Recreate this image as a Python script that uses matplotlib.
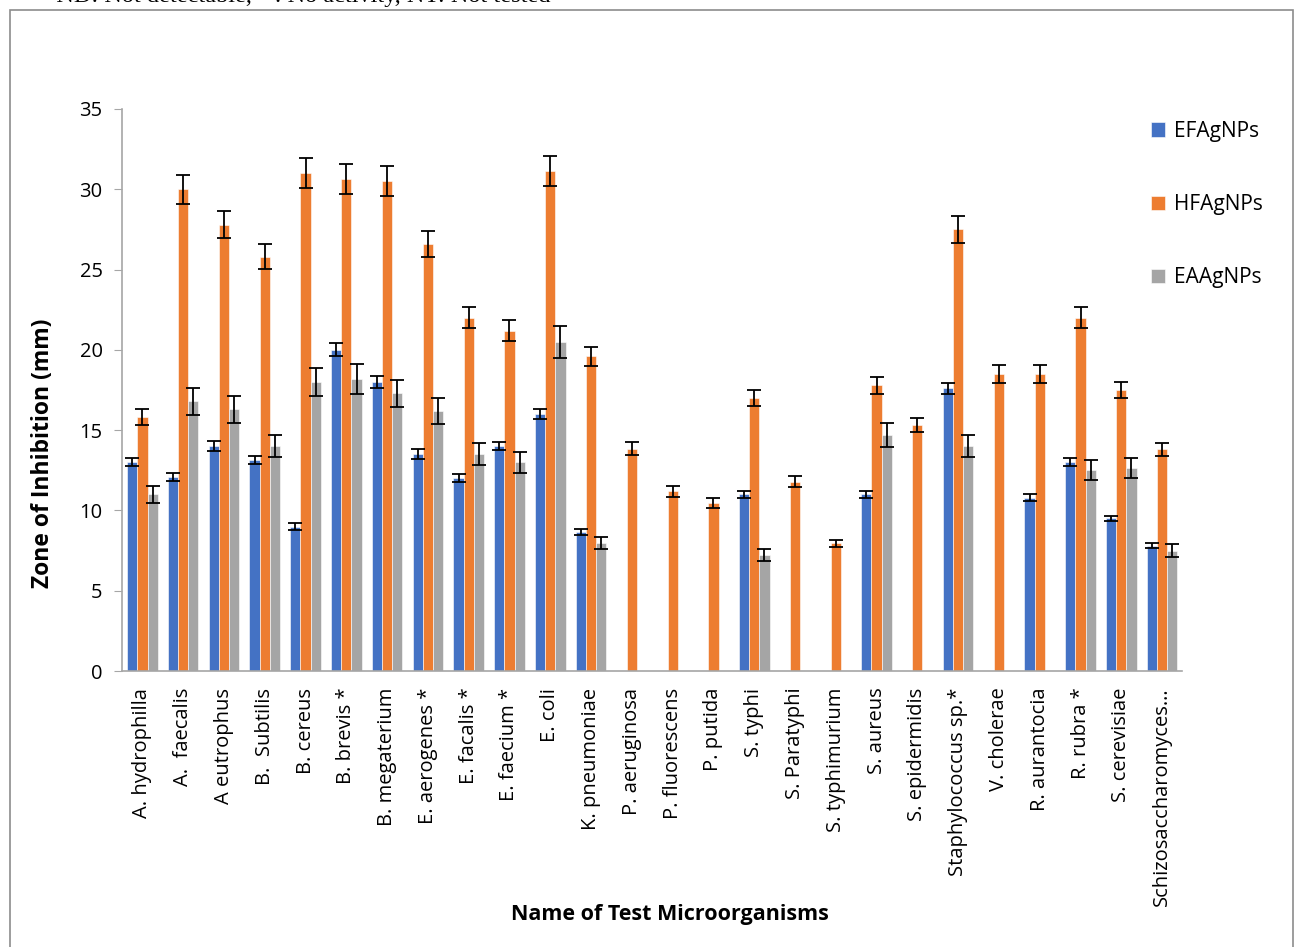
import numpy as np
import matplotlib
matplotlib.use("Agg")
import matplotlib.pyplot as plt
from matplotlib.patches import Rectangle

# organisms on the x axis
organisms = ["A. hydrophilla", "A.  faecalis", "A eutrophus", "B.  Subtilis", "B. cereus",
             "B. brevis *", "B. megaterium", "E. aerogenes *", "E. facalis *", "E. faecium *",
             "E. coli", "K. pneumoniae", "P. aeruginosa", "P. fluorescens", "P. putida",
             "S. typhi", "S. Paratyphi", "S. typhimurium", "S. aureus", "S. epidermidis",
             "Staphylococcus sp.*", "V. cholerae", "R. aurantocia", "R. rubra *", "S. cerevisiae",
             "Schizosaccharomyces\u2026"]

# zone of inhibition (mm)
efagnps = [13.0, 12.1, 14.0, 13.15, 9.0, 20.0, 18.0, 13.5, 12.0, 14.0,
           16.0, 8.65, 0, 0, 0, 11.0, 0, 0, 11.0, 0,
           17.6, 0, 10.8, 13.0, 9.5, 7.8]
hfagnps = [15.8, 30.0, 27.8, 25.8, 31.0, 30.65, 30.5, 26.6, 22.0, 21.2,
           31.15, 19.6, 13.85, 11.2, 10.45, 17.0, 11.8, 7.95, 17.8, 15.3,
           27.5, 18.5, 18.5, 22.0, 17.5, 13.8]
eaagnps = [11.0, 16.8, 16.3, 14.0, 18.0, 18.2, 17.3, 16.2, 13.5, 13.0,
           20.5, 7.95, 0, 0, 0, 7.25, 0, 0, 14.7, 0,
           14.0, 0, 0, 12.5, 12.65, 7.5]

# error bars
efagnps_err = [0.25, 0.25, 0.3, 0.27, 0.2, 0.4, 0.35, 0.3, 0.25, 0.25,
               0.3, 0.18, 0, 0, 0, 0.22, 0, 0, 0.22, 0,
               0.35, 0, 0.2, 0.25, 0.18, 0.15]
hfagnps_err = [0.5, 0.9, 0.83, 0.77, 0.93, 0.93, 0.93, 0.8, 0.66, 0.65,
               0.94, 0.58, 0.42, 0.35, 0.32, 0.5, 0.36, 0.24, 0.52, 0.44,
               0.82, 0.56, 0.56, 0.66, 0.52, 0.42]
eaagnps_err = [0.55, 0.85, 0.83, 0.7, 0.9, 0.92, 0.85, 0.82, 0.67, 0.65,
               1.0, 0.38, 0, 0, 0, 0.38, 0, 0, 0.74, 0,
               0.7, 0, 0, 0.63, 0.63, 0.4]

plt.rcParams['font.family'] = ['Open Sans', 'DejaVu Sans']

fig = plt.figure(figsize=(12.98, 9.47), dpi=100)
ax = fig.add_axes([0.094, 0.2914, 0.817, 0.5935])

x = np.arange(len(organisms))
w = 0.25
ekw = dict(ecolor='black', elinewidth=1.3, capthick=1.3)
ax.bar(x - w, efagnps, w, color='#4472C4', edgecolor='white', linewidth=0.4,
       yerr=[e if v > 0 else np.nan for e, v in zip(efagnps_err, efagnps)],
       capsize=5, error_kw=ekw, label='EFAgNPs')
ax.bar(x, hfagnps, w, color='#ED7D31', edgecolor='white', linewidth=0.4,
       yerr=hfagnps_err, capsize=5, error_kw=ekw, label='HFAgNPs')
ax.bar(x + w, eaagnps, w, color='#A5A5A5', edgecolor='white', linewidth=0.4,
       yerr=[e if v > 0 else np.nan for e, v in zip(eaagnps_err, eaagnps)],
       capsize=5, error_kw=ekw, label='EAAgNPs')

ax.set_xlim(-0.5, len(organisms) - 0.5)
ax.set_ylim(0, 35)
ax.set_yticks(range(0, 36, 5))
ax.tick_params(axis='y', labelsize=14.5, length=6, color='#A6A6A6', pad=8)
ax.set_xticks(x)
ax.set_xticklabels(organisms, rotation=90, fontsize=14.5)
ax.tick_params(axis='x', length=0, pad=12)
for s in ['top', 'right']:
    ax.spines[s].set_visible(False)
ax.spines['left'].set_color('#A6A6A6')
ax.spines['bottom'].set_color('#A6A6A6')
ax.spines['left'].set_linewidth(1.2)
ax.spines['bottom'].set_linewidth(1.2)

fig.text(43 / 1298, 1 - 453 / 947, 'Zone of Inhibition (mm)', fontsize=16.5,
         fontweight='bold', rotation=90, ha='center', va='center')
fig.text(0.516, 0.034, 'Name of Test Microorganisms', fontsize=15.5, fontweight='bold',
         ha='center', va='center')

fig.legend(loc='upper left', bbox_to_anchor=(0.872, 0.892), frameon=False,
           fontsize=15, handlelength=0.7, handleheight=0.7, handletextpad=0.4,
           labelspacing=2.5)

# outer chart frame and the cut-off note above it
fig.patches.append(Rectangle((10 / 1298, -0.05), 1283 / 1298, 1.0 - 10 / 947 + 0.05,
                             transform=fig.transFigure, fill=False,
                             edgecolor='#8C8C8C', linewidth=1.2))
fig.text(5 / 1298, 1.004, '\u2022       ND: Not detectable, \'-\': No activity, NT: Not tested',
         fontsize=17.5, family='Liberation Serif', ha='left', va='center')

fig.savefig('out.png', dpi=100)
